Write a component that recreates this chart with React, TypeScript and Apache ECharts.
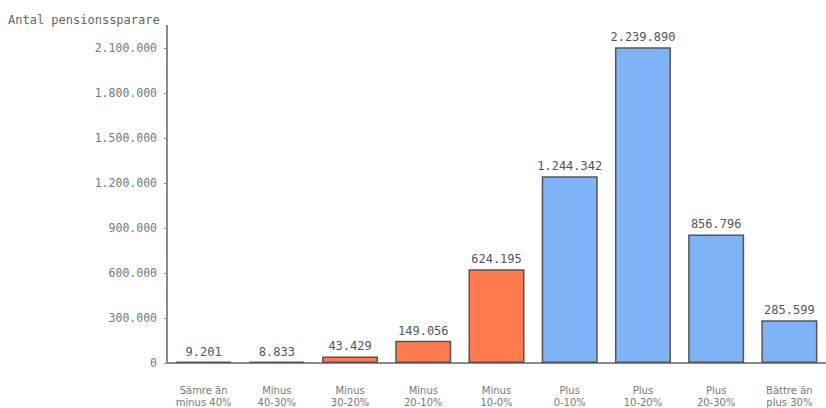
import React, { useEffect, useRef } from "react";
import * as echarts from "echarts";

const categories: string[] = [
  "Sämre än\nminus 40%",
  "Minus\n40-30%",
  "Minus\n30-20%",
  "Minus\n20-10%",
  "Minus\n10-0%",
  "Plus\n0-10%",
  "Plus\n10-20%",
  "Plus\n20-30%",
  "Bättre än\nplus 30%",
];
const values: number[] = [9201, 8833, 43429, 149056, 624195, 1244342, 2239890, 856796, 285599];
const isLoss: boolean[] = [true, true, true, true, true, false, false, false, false];
const yAxisTitle = "Antal pensionssparare";
const yMax = 2100000;
const yInterval = 300000;

const fmt = (v: number) => String(Math.round(v)).replace(/\B(?=(\d{3})+(?!\d))/g, ".");

const ORANGE = "#FF7A4D";
const BLUE = "#7EB4F6";

export default function App() {
  const ref = useRef<HTMLDivElement>(null);
  useEffect(() => {
    if (!ref.current) return;
    const chart = echarts.init(ref.current, null, { renderer: "svg" });
    chart.setOption({
      animation: false,
      backgroundColor: "#ffffff",
      grid: { left: 167, right: -7, top: 48, bottom: 44, containLabel: false },
      graphic: [
        {
          type: "text",
          left: 8,
          top: 14,
          style: {
            text: yAxisTitle,
            font: "12px 'DejaVu Sans Mono'",
            fill: "#666",
          },
        },
        {
          type: "line",
          shape: { x1: 167, y1: 25, x2: 167, y2: 48 },
          style: { stroke: "#8a8a8a", lineWidth: 2 },
        },
      ],
      xAxis: {
        type: "category",
        data: categories,
        axisLine: { show: true, lineStyle: { color: "#8a8a8a", width: 2 } },
        axisTick: { show: false },
        axisLabel: {
          interval: 0,
          margin: 21,
          color: "#777",
          fontFamily: "DejaVu Sans",
          fontSize: 10,
          lineHeight: 12,
        },
      },
      yAxis: {
        type: "value",
        min: 0,
        max: yMax,
        interval: yInterval,
        axisLine: { show: true, lineStyle: { color: "#8a8a8a", width: 2 } },
        axisTick: { show: true, length: 3, lineStyle: { color: "#8a8a8a" } },
        splitLine: { show: false },
        axisLabel: {
          margin: 10,
          color: "#777",
          fontFamily: "DejaVu Sans Mono",
          fontSize: 11.5,
          formatter: (v: number) => fmt(v),
        },
      },
      series: [
        {
          type: "bar",
          clip: true,
          barWidth: 56,
          data: values.map((v, i) => ({
            value: v,
            itemStyle: { color: isLoss[i] ? ORANGE : BLUE },
          })),
          itemStyle: { borderColor: "#555", borderWidth: 1.5 },
          label: {
            show: true,
            position: "top",
            distance: 4,
            color: "#555",
            fontFamily: "DejaVu Sans Mono",
            fontSize: 12,
            formatter: (p: any) => fmt(p.value),
          },
        },
      ],
    });
    return () => chart.dispose();
  }, []);
  return (
    <div
      ref={ref}
      style={{ position: "fixed", left: 0, top: 0, width: 826, height: 408 }}
    />
  );
}
